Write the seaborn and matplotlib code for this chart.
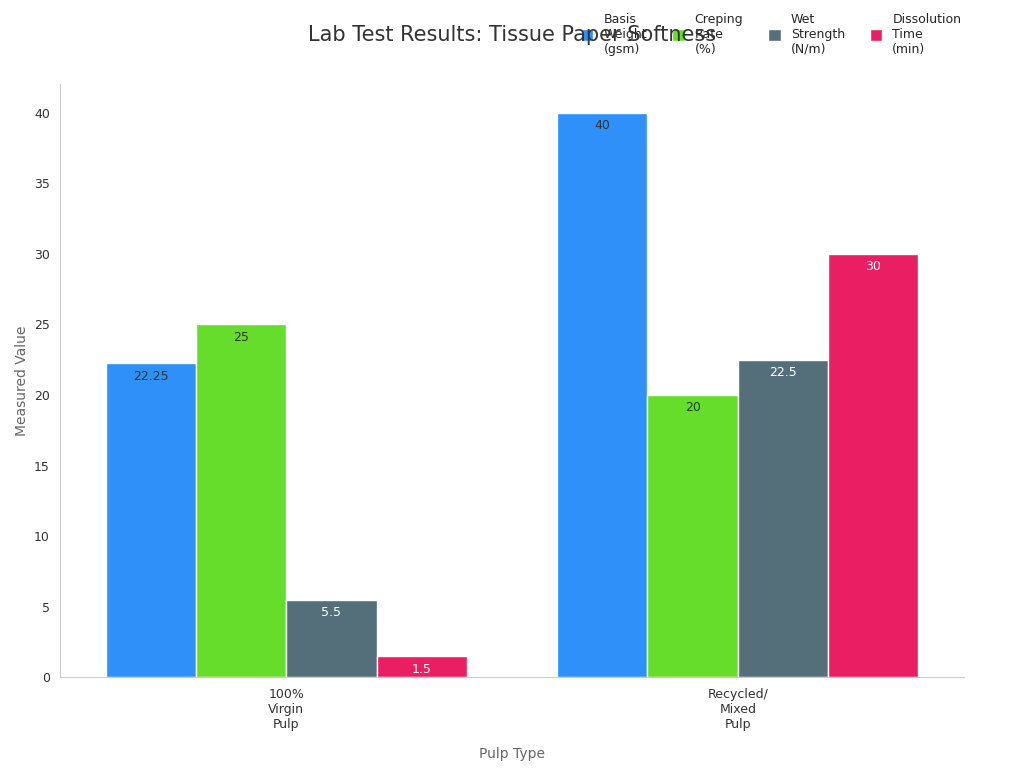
import matplotlib
matplotlib.use("Agg")
import matplotlib.pyplot as plt
import seaborn as sns
import pandas as pd

categories = ["100%\nVirgin\nPulp", "Recycled/\nMixed\nPulp"]
series = ["Basis\nWeight\n(gsm)", "Creping\nRate\n(%)", "Wet\nStrength\n(N/m)", "Dissolution\nTime\n(min)"]
basis_weight = [22.25, 40]
creping_rate = [25, 20]
wet_strength = [5.5, 22.5]
dissolution_time = [1.5, 30]
colors = ["#2E90F8", "#66DD2A", "#546E7A", "#E91E63"]
label_colors = ["#333333", "#333333", "white", "white"]

rows = []
for s, vals in zip(series, [basis_weight, creping_rate, wet_strength, dissolution_time]):
    for c, v in zip(categories, vals):
        rows.append({"Pulp Type": c, "Metric": s, "Value": v})
df = pd.DataFrame(rows)

sns.set_style("white")
fig = plt.figure(figsize=(10.24, 7.68), dpi=100)
ax = fig.add_axes([0.059, 0.118, 0.882, 0.772])
sns.barplot(data=df, x="Pulp Type", y="Value", hue="Metric", palette=colors,
            saturation=1, edgecolor="white", linewidth=1, width=0.8, ax=ax)

for cont, lc in zip(ax.containers, label_colors):
    ax.bar_label(cont, labels=[f"{v:g}" for v in cont.datavalues], label_type="edge",
                 padding=-14, color=lc, fontsize=9)

ax.set_ylim(0, 42)
ax.set_yticks(range(0, 41, 5))
ax.tick_params(axis="both", labelsize=9, colors="#333333", length=4)
ax.set_xlabel("Pulp Type", color="#666666", fontsize=10, labelpad=12)
ax.set_ylabel("Measured Value", color="#666666", fontsize=10)
for sp in ["top", "right"]:
    ax.spines[sp].set_visible(False)
for sp in ["left", "bottom"]:
    ax.spines[sp].set_color("#cccccc")

fig.text(0.5, 0.955, "Lab Test Results: Tissue Paper Softness", ha="center", va="center",
         fontsize=15, color="#333333")
ax.legend(loc="upper right", bbox_to_anchor=(1.01, 1.14), ncol=4, frameon=False,
          fontsize=9, handlelength=1, handleheight=1, columnspacing=2.0)

fig.savefig("out.png", dpi=100)
